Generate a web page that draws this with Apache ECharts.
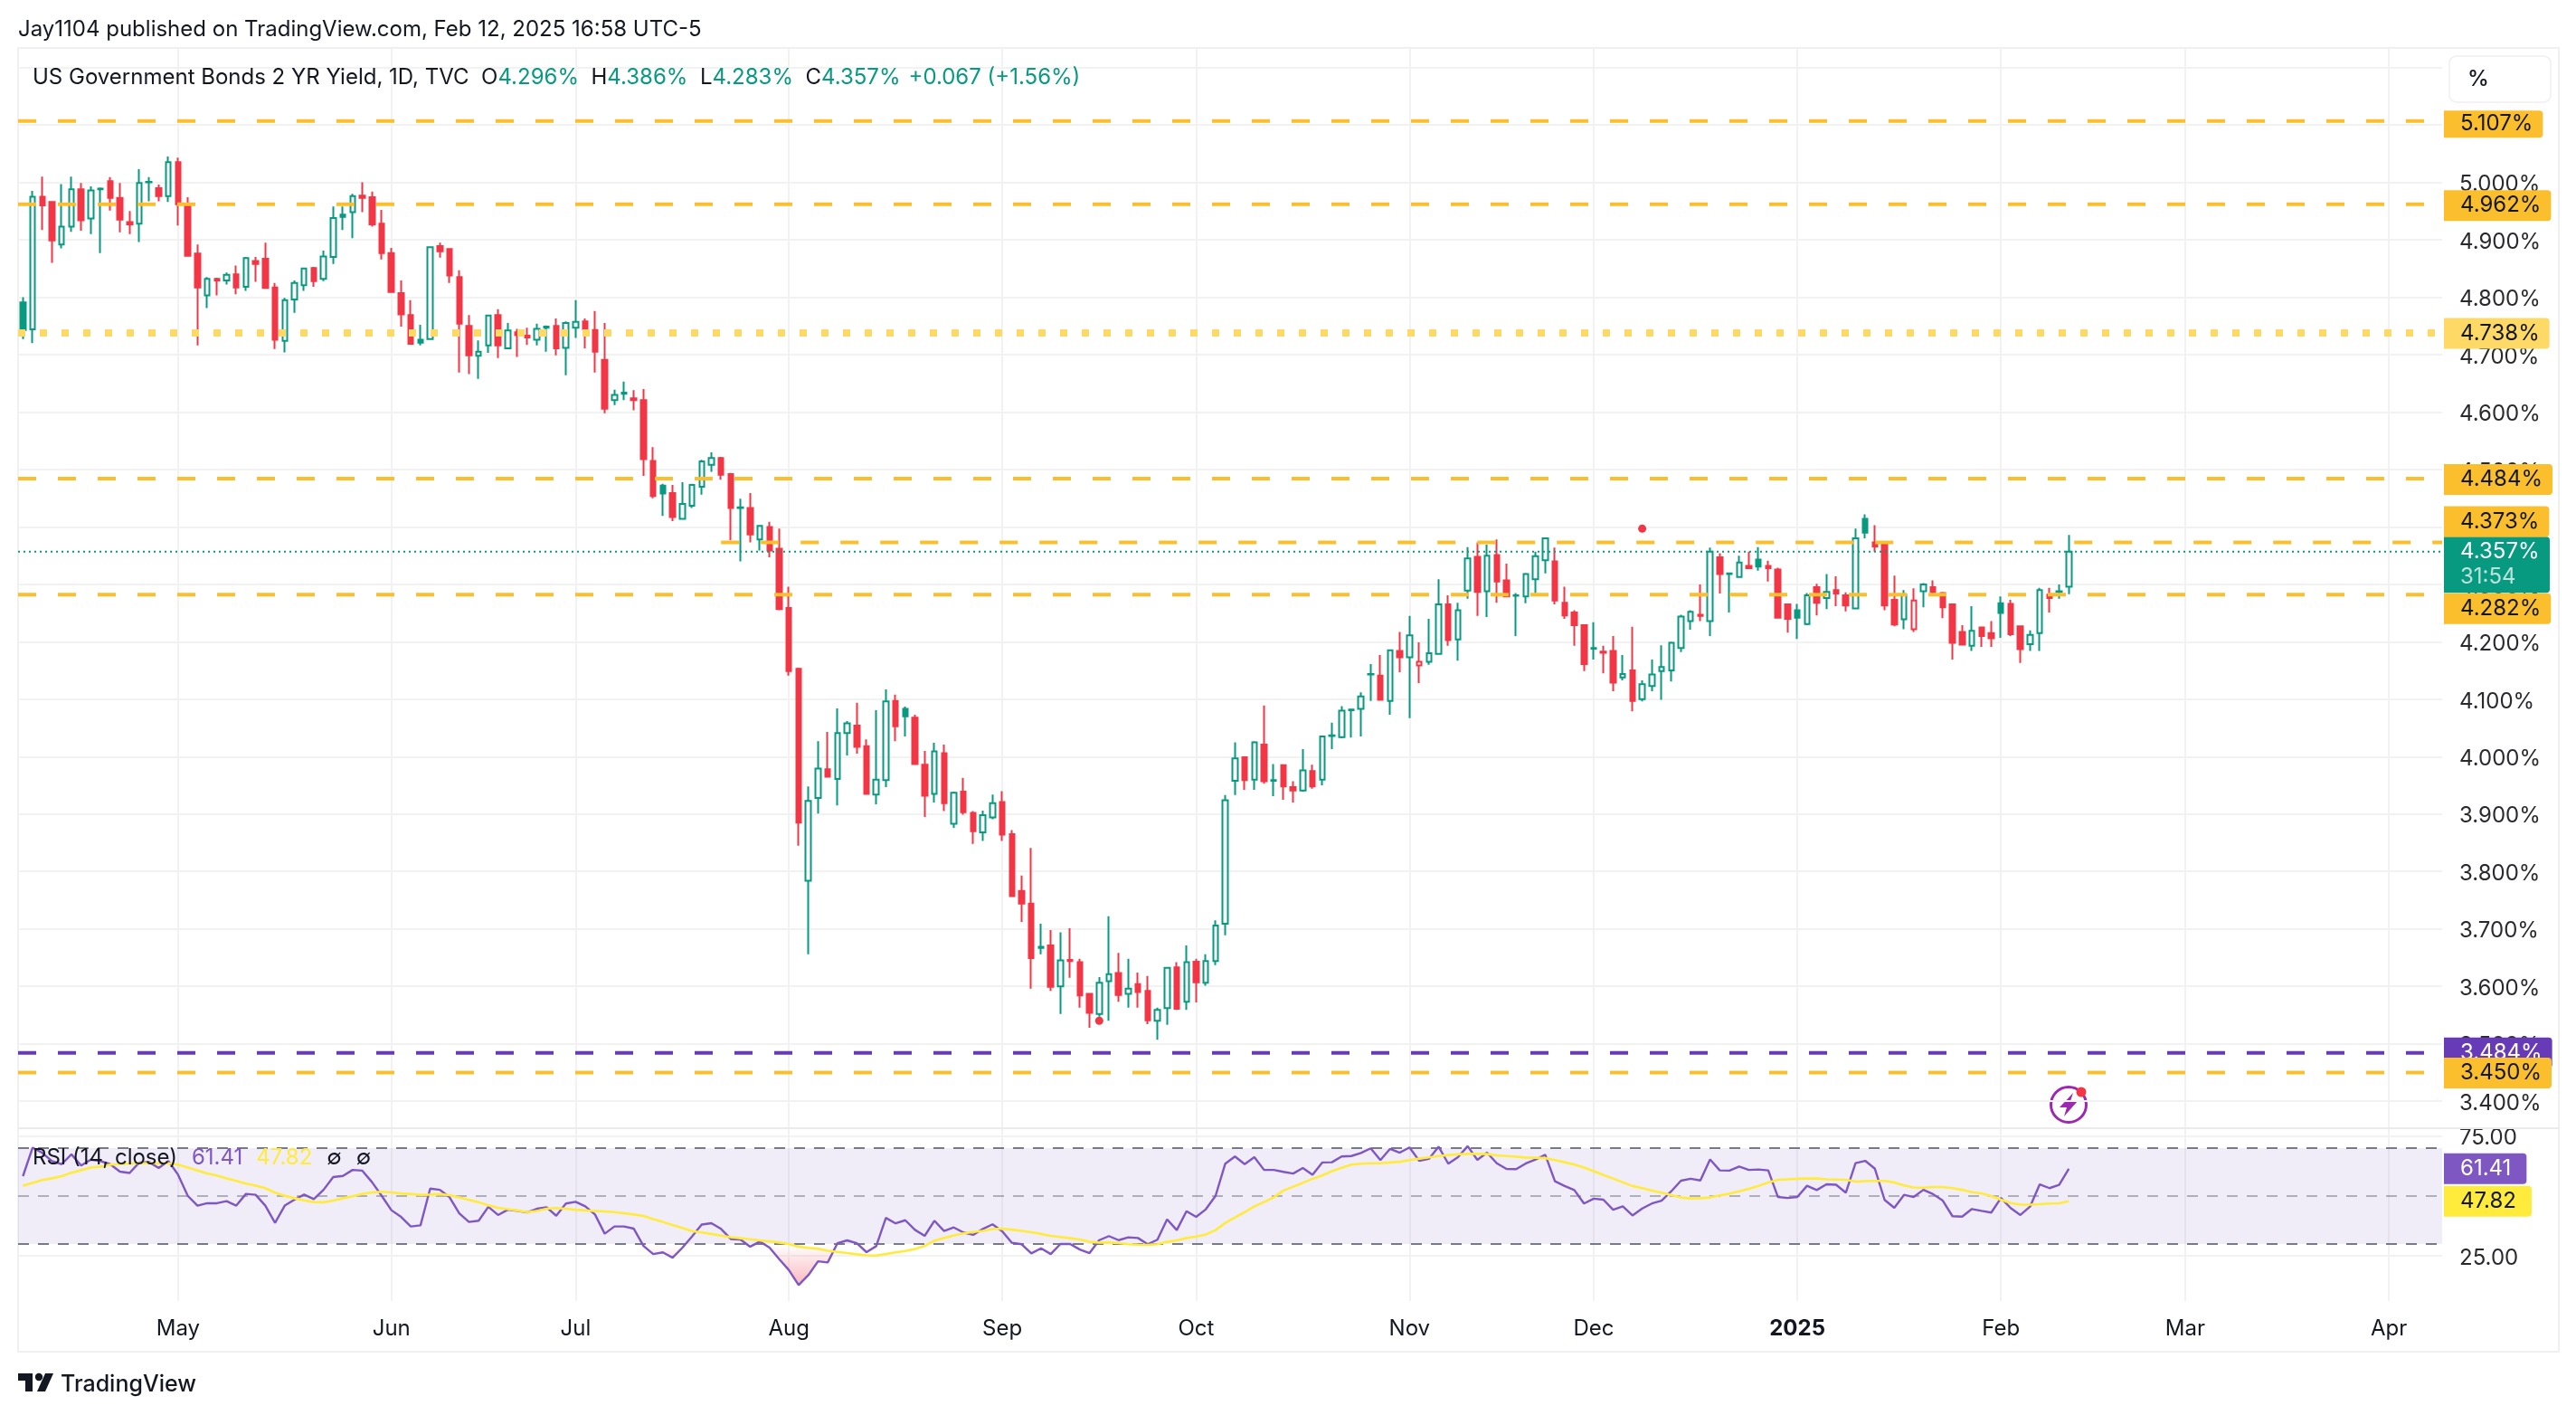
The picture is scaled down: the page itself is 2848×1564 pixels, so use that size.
<!DOCTYPE html>
<html><head><meta charset="utf-8">
<style>html,body{margin:0;padding:0;background:#fff}#c{width:2848px;height:1564px}</style>
<script src="https://cdn.jsdelivr.net/npm/echarts@6/dist/echarts.min.js"></script>
</head><body><div id="c"></div>
<script>
const openValues=[4.791,4.744,4.975,4.966,4.892,4.923,4.988,4.937,4.988,5.002,
4.973,4.931,4.928,5.000,4.990,4.976,5.035,4.961,4.876,4.803,
4.832,4.829,4.840,4.818,4.863,4.867,4.817,4.724,4.796,4.821,
4.851,4.832,4.870,4.944,4.948,4.977,4.974,4.928,4.877,4.807,
4.769,4.726,4.727,4.889,4.884,4.835,4.750,4.698,4.716,4.769,
4.711,4.739,4.733,4.726,4.747,4.750,4.712,4.747,4.758,4.743,
4.691,4.621,4.632,4.624,4.621,4.515,4.472,4.459,4.414,4.437,
4.470,4.508,4.520,4.492,4.433,4.433,4.378,4.400,4.362,4.259,
4.153,3.784,3.928,3.978,3.961,4.041,4.054,4.018,3.934,3.959,
4.097,4.083,4.068,3.986,3.935,4.006,3.883,3.939,3.902,3.868,
3.894,3.921,3.865,3.766,3.744,3.667,3.671,3.600,3.646,3.642,
3.587,3.552,3.609,3.623,3.587,3.604,3.592,3.540,3.562,3.633,
3.573,3.643,3.606,3.644,3.709,3.958,3.999,3.960,4.021,3.958,
3.985,3.947,3.941,3.975,3.960,4.036,4.034,4.081,4.083,4.143,
4.141,4.097,4.184,4.173,4.159,4.165,4.179,4.265,4.204,4.289,
4.348,4.288,4.351,4.307,4.280,4.279,4.309,4.342,4.340,4.268,
4.251,4.229,4.188,4.183,4.184,4.138,4.150,4.100,4.123,4.149,
4.150,4.189,4.236,4.247,4.236,4.347,4.318,4.313,4.332,4.343,
4.332,4.326,4.265,4.255,4.231,4.295,4.276,4.290,4.281,4.258,
4.414,4.373,4.369,4.273,4.239,4.222,4.288,4.295,4.285,4.265,
4.217,4.193,4.225,4.215,4.267,4.266,4.227,4.196,4.215,4.282,
4.287,4.296];
const highValues=[4.800,4.985,5.010,4.967,4.997,5.010,4.999,4.993,4.991,5.009,
4.999,4.950,5.023,5.009,4.996,5.045,5.043,4.974,4.892,4.835,
4.834,4.843,4.855,4.870,4.870,4.895,4.825,4.799,4.829,4.851,
4.853,4.881,4.958,4.958,4.980,5.000,4.984,4.952,4.886,4.829,
4.795,4.752,4.888,4.895,4.885,4.847,4.769,4.725,4.769,4.779,
4.755,4.745,4.747,4.754,4.751,4.763,4.758,4.795,4.763,4.776,
4.755,4.639,4.653,4.638,4.640,4.539,4.475,4.473,4.478,4.475,
4.517,4.530,4.522,4.494,4.449,4.459,4.403,4.409,4.397,4.296,
4.155,3.948,4.027,4.043,4.084,4.062,4.094,4.030,4.081,4.117,
4.108,4.087,4.073,4.010,4.024,4.021,3.939,3.963,3.905,3.906,
3.934,3.940,3.872,3.793,3.841,3.709,3.698,3.694,3.701,3.648,
3.588,3.616,3.722,3.658,3.648,3.624,3.618,3.563,3.633,3.642,
3.671,3.648,3.656,3.715,3.933,4.025,4.000,4.027,4.089,3.987,
3.986,3.957,4.013,3.986,4.036,4.059,4.088,4.083,4.112,4.161,
4.177,4.186,4.217,4.245,4.199,4.240,4.309,4.281,4.268,4.365,
4.373,4.369,4.378,4.336,4.285,4.320,4.357,4.381,4.364,4.296,
4.255,4.230,4.234,4.193,4.210,4.177,4.226,4.133,4.169,4.194,
4.200,4.247,4.255,4.300,4.364,4.354,4.320,4.350,4.357,4.365,
4.341,4.329,4.266,4.266,4.285,4.301,4.318,4.314,4.286,4.397,
4.422,4.403,4.370,4.315,4.290,4.293,4.302,4.307,4.287,4.265,
4.229,4.262,4.226,4.236,4.279,4.273,4.228,4.220,4.294,4.294,
4.300,4.386];
const lowValues=[4.727,4.720,4.917,4.860,4.885,4.914,4.916,4.910,4.877,4.951,
4.913,4.910,4.896,4.967,4.967,4.966,4.925,4.871,4.716,4.781,
4.803,4.822,4.805,4.811,4.827,4.815,4.710,4.704,4.773,4.811,
4.818,4.828,4.858,4.917,4.903,4.948,4.923,4.866,4.808,4.749,
4.718,4.716,4.726,4.869,4.825,4.669,4.666,4.658,4.703,4.694,
4.710,4.696,4.717,4.716,4.705,4.699,4.664,4.729,4.711,4.669,
4.598,4.612,4.621,4.603,4.489,4.450,4.419,4.410,4.413,4.433,
4.456,4.496,4.482,4.377,4.340,4.373,4.359,4.347,4.255,4.141,
3.845,3.656,3.901,3.964,3.915,4.002,4.005,3.934,3.917,3.947,
4.027,4.035,3.986,3.895,3.920,3.905,3.876,3.899,3.848,3.853,
3.891,3.853,3.756,3.712,3.596,3.656,3.592,3.552,3.615,3.563,
3.528,3.547,3.540,3.573,3.563,3.563,3.534,3.507,3.533,3.559,
3.559,3.572,3.601,3.637,3.689,3.933,3.942,3.942,3.953,3.931,
3.925,3.920,3.939,3.944,3.950,4.013,4.032,4.033,4.035,4.097,
4.098,4.073,4.147,4.067,4.128,4.160,4.178,4.193,4.167,4.275,
4.245,4.243,4.268,4.278,4.210,4.267,4.285,4.319,4.265,4.240,
4.193,4.149,4.169,4.145,4.114,4.133,4.079,4.096,4.114,4.099,
4.131,4.182,4.221,4.236,4.210,4.284,4.251,4.312,4.327,4.324,
4.305,4.241,4.216,4.205,4.229,4.246,4.257,4.262,4.253,4.257,
4.380,4.357,4.255,4.227,4.222,4.217,4.260,4.282,4.241,4.169,
4.194,4.184,4.191,4.191,4.207,4.210,4.163,4.184,4.184,4.251,
4.275,4.283];
const closeValues=[4.743,4.975,4.960,4.899,4.923,4.988,4.934,4.986,4.989,4.973,
4.935,4.927,4.999,5.001,4.976,5.035,4.962,4.872,4.817,4.832,
4.829,4.839,4.817,4.868,4.858,4.816,4.726,4.795,4.825,4.850,
4.828,4.871,4.938,4.940,4.976,4.973,4.927,4.877,4.809,4.770,
4.719,4.721,4.887,4.880,4.838,4.754,4.699,4.705,4.768,4.716,
4.742,4.734,4.730,4.745,4.749,4.711,4.755,4.757,4.744,4.705,
4.606,4.630,4.634,4.621,4.518,4.454,4.458,4.417,4.440,4.473,
4.514,4.520,4.491,4.433,4.434,4.387,4.402,4.359,4.257,4.149,
3.885,3.923,3.979,3.965,4.041,4.058,4.017,3.935,3.960,4.096,
4.053,4.070,3.987,3.932,4.009,3.919,3.937,3.903,3.870,3.898,
3.919,3.864,3.757,3.744,3.649,3.669,3.599,3.645,3.644,3.584,
3.554,3.606,3.621,3.585,3.596,3.590,3.541,3.559,3.632,3.561,
3.642,3.607,3.644,3.706,3.924,3.997,3.959,4.025,3.957,3.959,
3.948,3.941,3.976,3.948,4.035,4.037,4.080,4.082,4.105,4.144,
4.099,4.185,4.173,4.211,4.165,4.180,4.265,4.203,4.255,4.345,
4.287,4.350,4.305,4.279,4.281,4.318,4.349,4.380,4.272,4.246,
4.229,4.161,4.189,4.181,4.129,4.144,4.097,4.126,4.143,4.156,
4.198,4.244,4.252,4.245,4.357,4.318,4.319,4.338,4.328,4.331,
4.328,4.242,4.240,4.242,4.281,4.268,4.287,4.284,4.263,4.380,
4.390,4.366,4.263,4.230,4.282,4.272,4.300,4.287,4.260,4.198,
4.195,4.219,4.210,4.206,4.250,4.213,4.187,4.212,4.290,4.276,
4.288,4.357];
const rsiValues=[58.3,70.2,68,64.6,63.3,67.4,62.7,65.2,64.6,63.3,60.2,59.6,64,64.2,61.7,64.6,58.9,
50.1,46,47,47,47.9,46,50.9,50.5,46,38.8,46,48.5,50.6,48.7,52.6,57.9,58.4,60.9,60.6,55.8,50.1,44.1,41.3,37.3,37.8,53.1,52.6,49.5,42.8,39.2,39.7,45.5,42.1,44.3,43.8,43.2,44.7,
45.3,41.8,46.9,47.6,45.7,42.3,34.3,37.3,37.3,36.4,29.2,25.8,26.5,24.3,28.4,33.1,38.1,38.7,36.3,32.1,31.9,28.9,31,28.5,23.7,19.1,12.9,17,22.8,22.3,30.3,31.5,30.3,26.6,29.1,40.9,38.6,39.9,35.9,33.4,39.7,35.4,36.9,34.8,33.8,36.3,38.2,35.3,30.5,29.9,26.1,28.2,25.8,
30,30,27.7,26.2,31.6,33.3,31.6,32.8,32.5,29.9,31.8,40.3,35.8,43.7,41.3,44.5,50.1,63.5,66.5,63.3,66.2,60.9,60.9,60.1,59.4,61.7,58.9,64,64.1,66.5,66.7,68,69.9,65,69.7,68.1,70.3,64.7,65.5,70.6,63.5,66.2,70.8,65.1,68.1,63.7,61.3,61.2,63.6,65.2,67.2,56.2,
54.2,52.5,46.9,48.9,48.5,44.3,45.7,41.9,44.8,46.9,48.1,52,56.4,57.2,56.5,65.3,60.7,60.6,62.3,60.9,61.1,60.7,49.6,49.2,49.6,54.3,52.5,54.9,54.7,51.4,63.7,64.7,61.4,48.4,45.1,50.5,49.6,52.6,50.8,48.1,41.6,41.4,44.6,43.8,43.1,49.2,45,42.1,45.6,54.9,53.3,54.7,61.41];
const rsiMaValues=[54.3,55.5,56.7,57.4,58.3,59.7,60.8,61.9,62.3,63.1,63.3,63.6,63.7,63.7,63.7,63.7,63.1,61.9,60.7,59.4,58.6,57.4,56.3,55.2,54.3,53.3,51.4,50.1,49.1,48.2,47.5,47.4,48.1,49.1,49.9,50.9,51.5,51.8,51.5,51.1,50.9,50.5,50.6,50.8,50.4,49.4,48.4,47.4,46.1,45.1,44.5,44,43.3,43.8,
44.7,45,44.7,44.3,44,43.8,43.6,43.3,42.8,42.3,41.7,40.4,39.2,37.9,36.7,35.4,34.8,34.2,33.5,32.8,32.4,32,31.5,31.1,30.6,30,28.9,28.4,28,27.2,26.7,26.2,25.7,25.3,25.2,25.8,26.5,27.1,27.9,29.2,31.4,32.5,33.6,34.4,35,35.5,36.2,36.4,36,35.5,34.9,34.2,33.4,
32.9,32.4,31.9,30.9,30.6,30.6,30.4,29.9,29.7,29.6,29.9,30.9,31.5,32.5,33.1,34,35.8,38.8,41.1,43.3,45.7,47.5,49.5,52.3,53.9,55.5,57.2,58.6,60.4,61.8,63.1,63.5,63.7,63.7,64,64.3,65,65.6,66.1,66.7,67.1,67.4,67.6,67.6,67.5,67,66.7,66.4,66.1,66,65.8,65,64.1,
63.1,61.9,60.4,58.8,57.3,55.7,54.2,53.3,52.3,51.4,50.4,49.4,49,49.1,49.4,50.3,51,52,53,54.2,55.7,56.8,57,57.2,57.3,57.3,57,56.9,56.8,56,56.2,56.3,56.3,55.7,54.4,53.6,53.5,53.8,53.8,53.3,52.6,51.6,51.1,50,48.5,47.1,46.4,46.4,46.6,46.9,47,47.82];
const monthLabels=['May','Jun','Jul','Aug','Sep','Oct','Nov','Dec','2025','Feb','Mar','Apr'];
const monthSlots=[16,38,57,79,101,121,143,162,183,204,223,244];
const slotCount=250;
const priceTicks=[3.4,3.5,3.6,3.7,3.8,3.9,4.0,4.1,4.2,4.3,4.4,4.5,4.6,4.7,4.8,4.9,5.0,5.1,5.2];
const rsiTicks=[25,75];
const rsiBands=[70,50,30];
const dotPoints=[[111,3.54],[167,4.397]];
const dashedLevels=[5.107,4.962,4.484,4.373,4.282,3.450];
const purpleLevel=3.484;
const dottedLevel=4.738;
const lastPrice=4.357;

const FONT='Inter';
const UP='#089981',DOWN='#F23645',AMBER='#FBBF2D',GRID='#F2F2F3',TXT='#2A2A2E';
const slots=Array.from({length:slotCount},(_,i)=>{const k=monthSlots.indexOf(i);return k<0?'':monthLabels[k];});
const isMonth=i=>monthSlots.includes(i);
const candleData=openValues.map((o,i)=>{
  const c=closeValues[i],col=(i===0||c>=closeValues[i-1])?UP:DOWN,hollow=c>o;
  return {value:[o,c,lowValues[i],highValues[i]],itemStyle:{color:hollow?'transparent':col,color0:col,borderColor:col,borderColor0:col,borderColorDoji:col}};
});
function level(v,color,label,opt){
  opt=opt||{};
  const lab=label?Object.assign({show:true,formatter:label,color:opt.textColor||'#131722',backgroundColor:color,fontFamily:FONT,fontSize:24,lineHeight:34,padding:[0,11,0,18],distance:2,borderRadius:[0,4,4,0]},opt.label||{}):{show:false};
  return {type:'line',xAxisIndex:opt.x==null?1:opt.x,yAxisIndex:opt.y||0,silent:true,symbol:'none',animation:false,z:opt.z||5,
    lineStyle:{color:opt.lineColor||color,width:opt.width==null?4:opt.width,type:opt.dash||[20,24],opacity:opt.hide?0:1,cap:'butt'},
    endLabel:lab,data:[[opt.from||0,v],[slotCount,v]]};
}
const series=[
 {type:'candlestick',xAxisIndex:0,yAxisIndex:0,data:candleData,barWidth:6,animation:false,silent:true,z:3,progressive:0,itemStyle:{borderWidth:2}},
 {type:'scatter',xAxisIndex:0,yAxisIndex:0,data:dotPoints,symbolSize:9,itemStyle:{color:DOWN,opacity:1},silent:true,animation:false,z:4},
 level(dashedLevels[0],AMBER,'5.107%',{label:{lineHeight:26,padding:[0,11,4,18],offset:[0,3.5]}}),
 level(dashedLevels[1],AMBER,'4.962%',{label:{offset:[0,1.5]}}),
 level(dottedLevel,'#FFD966','4.738%',{dash:[8,16],width:8,label:{offset:[0,0.5]}}),
 level(dashedLevels[2],AMBER,'4.484%',{label:{offset:[0,1]}}),
 level(lastPrice,UP,'{a|4.357%}\n{b|31:54}',{dash:[2,4],width:2,z:4,label:{rich:{a:{color:'#fff',fontFamily:FONT,fontSize:24,lineHeight:28},b:{color:'rgba(255,255,255,0.72)',fontFamily:FONT,fontSize:24,lineHeight:28}},padding:[3,11,3,18],width:88,offset:[0,14.5]}}),
 level(dashedLevels[3],AMBER,'4.373%',{from:72.5,label:{offset:[0,-23]}}),
 level(dashedLevels[4],AMBER,'4.282%',{label:{offset:[0,15.5]}}),
 level(purpleLevel,'#673AB7','3.484%',{textColor:'#fff',label:{offset:[0,0]}}),
 level(dashedLevels[5],AMBER,'3.450%',{label:{offset:[0,0.5]}}),
 // RSI pane
 {type:'line',xAxisIndex:3,yAxisIndex:1,silent:true,symbol:'none',animation:false,z:1,lineStyle:{width:0},data:[[0,50],[slotCount,50]],
  markArea:{silent:true,itemStyle:{color:'rgba(126,87,194,0.11)'},data:[[{yAxis:rsiBands[0]},{yAxis:rsiBands[2]}]]}},
 level(rsiBands[0],'#787B86',null,{x:3,y:1,dash:[12,10],width:2,z:2}),
 level(rsiBands[1],'rgba(120,123,134,0.55)',null,{x:3,y:1,dash:[12,10],width:2,z:2}),
 level(rsiBands[2],'#787B86',null,{x:3,y:1,dash:[12,10],width:2,z:2}),
 {type:'line',xAxisIndex:2,yAxisIndex:1,silent:true,symbol:'none',animation:false,z:2,lineStyle:{width:0},
  data:rsiValues.map(v=>Math.min(v,rsiBands[2])),
  areaStyle:{origin:rsiBands[2],opacity:1,color:{type:'linear',global:true,x:0,y:1375,x2:0,y2:1440,colorStops:[{offset:0,color:'rgba(242,54,69,0)'},{offset:1,color:'rgba(242,54,69,0.5)'}]}}},
 {type:'line',xAxisIndex:2,yAxisIndex:1,silent:true,symbol:'none',animation:false,z:3,data:rsiValues,lineStyle:{color:'#7E57C2',width:2.4}},
 {type:'line',xAxisIndex:2,yAxisIndex:1,silent:true,symbol:'none',animation:false,z:3,data:rsiMaValues,lineStyle:{color:'#FFEB3B',width:2.6}},
 level(rsiValues[rsiValues.length-1],'#7E57C2','61.41',{x:3,y:1,hide:true,textColor:'#fff',width:0,label:{padding:[0,17,0,18]}}),
 level(rsiMaValues[rsiMaValues.length-1],'#FFEB3B','47.82',{x:3,y:1,hide:true,width:0,label:{padding:[0,17,0,18]}})
];
const catAxis=(grid,labels)=>({type:'category',gridIndex:grid,data:slots,boundaryGap:true,
  axisLine:{show:false},axisTick:{show:false,alignWithLabel:true,interval:(i)=>isMonth(i)},
  splitLine:{show:true,alignWithLabel:true,interval:(i)=>isMonth(i),lineStyle:{color:GRID,width:2}},
  axisLabel:{show:labels,interval:(i)=>isMonth(i),margin:19,color:'#131722',fontFamily:FONT,fontSize:24,hideOverlap:false,
    formatter:v=>v==='2025'?'{b|2025}':v,rich:{b:{fontWeight:700,fontFamily:FONT,fontSize:24,color:'#131722'}}}});
const hiddenX=(grid)=>({type:'value',gridIndex:grid,min:0,max:slotCount,show:false});
const rich=(col,pad)=>({fontFamily:FONT,fontSize:24,fontWeight:'normal',color:col,lineHeight:28,padding:[0,0,0,pad||0]});
const option={
 animation:false,backgroundColor:'#fff',
 grid:[{left:20,top:53,width:2680,height:1193},{left:20,top:1247,width:2680,height:191}],
 xAxis:[catAxis(0,false),hiddenX(0),catAxis(1,true),hiddenX(1)],
 yAxis:[
  {type:'value',gridIndex:0,position:'right',min:3.3545,max:5.2341,scale:true,
   axisLine:{show:false},axisTick:{show:false,customValues:priceTicks},
   axisLabel:{customValues:priceTicks,margin:19,verticalAlign:'top',lineHeight:5,color:TXT,fontFamily:FONT,fontSize:24,formatter:v=>v.toFixed(3)+'%'},
   splitLine:{show:true,lineStyle:{color:GRID,width:2}}},
  {type:'value',gridIndex:1,position:'right',min:6.226,max:78.3,scale:true,
   axisLine:{show:false},axisTick:{show:false,customValues:rsiTicks},
   axisLabel:{customValues:rsiTicks,margin:19,verticalAlign:'top',lineHeight:5,color:TXT,fontFamily:FONT,fontSize:24,formatter:v=>v.toFixed(2)},
   splitLine:{show:true,lineStyle:{color:GRID,width:2}}}
 ],
 title:[
  {left:20,top:19,padding:0,text:'Jay1104 published on TradingView.com, Feb 12, 2025 16:58 UTC-5',textStyle:{fontFamily:FONT,fontSize:24,fontWeight:'normal',color:'#131722',lineHeight:28}},
  {left:36,top:72,padding:0,text:'{d|US Government Bonds 2 YR Yield, 1D, TVC  O}{g|4.296%}{d|  H}{g|4.386%}{d|  L}{g|4.283%}{d|  C}{g|4.357%}{s|+0.067 (+1.56%)}',
   textStyle:{fontWeight:'normal',rich:{d:rich('#131722'),g:rich(UP),s:rich(UP,9)}}},
  {left:36,top:1266,padding:0,text:'{d|RSI (14, close)}{p|61.41}{y|47.82}{e|∅}{e|∅}',
   textStyle:{fontWeight:'normal',rich:{d:rich('#131722'),p:rich('#7E57C2',16),y:rich('#FFEB3B',15),e:rich('#131722',16)}}}
 ],
 graphic:[
  {type:'rect',silent:true,z:-1,shape:{x:20,y:53,width:2809,height:1441},style:{fill:'none',stroke:'#F0F0F0',lineWidth:2}},
  {type:'line',silent:true,z:1,shape:{x1:20,y1:1247,x2:2829,y2:1247},style:{stroke:'#EBEBEB',lineWidth:2}},
  {type:'rect',silent:true,z:100,shape:{x:2708,y:62,width:112,height:51,r:8},style:{fill:'#fff',stroke:'#EFEFF1',lineWidth:1.5}},
  {type:'text',silent:true,z:101,x:2728,y:88,style:{text:'%',font:'500 24px Inter',fill:'#131722',textVerticalAlign:'middle'}},
  {type:'group',silent:true,z:90,x:2287,y:1221,children:[
    {type:'circle',shape:{cx:0,cy:0,r:19.5},style:{fill:'#fff',stroke:'#9C27B0',lineWidth:3}},
    {type:'polygon',shape:{points:[[5,-13],[-10,3],[-2,3],[-5,13],[10,-4],[2,-4]]},style:{fill:'#9C27B0'}},
    {type:'circle',shape:{cx:14,cy:-14,r:5.5},style:{fill:DOWN}}
  ]},
  {type:'group',silent:true,x:20,y:1518,children:[
    {type:'polygon',shape:{points:[[0,0],[16,0],[16,20],[8,20],[8,8],[0,8]]},style:{fill:'#131722'}},
    {type:'circle',shape:{cx:23,cy:4,r:4.2},style:{fill:'#131722'}},
    {type:'polygon',shape:{points:[[30,0],[39,0],[30,20],[21,20]]},style:{fill:'#131722'}}
  ]},
  {type:'text',silent:true,x:67,y:1530,style:{text:'TradingView',font:'500 25px Inter',fill:'#131722',textVerticalAlign:'middle'}}
 ],
 series
};
const chart=echarts.init(document.getElementById('c'),null,{renderer:'canvas',width:2848,height:1564,devicePixelRatio:1});
chart.setOption(option);
</script></body></html>
